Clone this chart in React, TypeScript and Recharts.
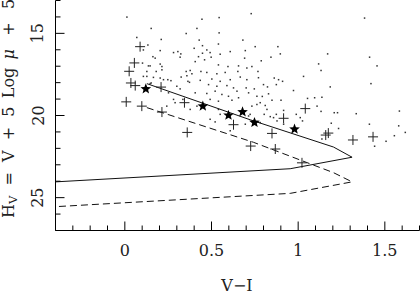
import React from 'react';
import { ScatterChart, Scatter, XAxis, YAxis } from 'recharts';

const FONT = '"DejaVu Serif", serif';

// axis ticks
const X_TICKS = [-0.4, -0.3, -0.2, -0.1, 0, 0.1, 0.2, 0.3, 0.4, 0.5, 0.6, 0.7, 0.8, 0.9, 1, 1.1, 1.2, 1.3, 1.4, 1.5, 1.6, 1.7];
const X_MAJOR = [0, 0.5, 1, 1.5];
const X_MAJOR_LABELS = ['0', '0.5', '1', '1.5'];
const Y_TICKS = [13, 14, 15, 16, 17, 18, 19, 20, 21, 22, 23, 24, 25, 26, 27];
const Y_MAJOR = [15, 20, 25];
const Y_MAJOR_LABELS = ['15', '20', '25'];

// field stars (small dots): [V-I, H_V]
const DOTS: number[][] = [
  [0.012, 14.01], [0.445, 14.14], [0.544, 14.04], [0.729, 13.8], [0.152, 14.7], [0.416, 14.7], [0.544, 14.97], [0.354, 15.01],
  [0.069, 15.25], [0.21, 15.37], [0.429, 15.41], [0.681, 15.41], [0.133, 15.71], [0.54, 15.65], [0.448, 15.75], [0.107, 16.01],
  [0.204, 16.05], [0.281, 16.17], [0.306, 16.11], [0.323, 16.25], [0.319, 16.45], [0.4, 15.91], [0.473, 16.01], [0.492, 16.17],
  [0.608, 16.11], [0.175, 16.51], [0.406, 16.72], [0.46, 16.61], [0.691, 16.51], [0.146, 16.98], [0.214, 17.02], [0.181, 17.32],
  [0.54, 16.92], [0.595, 17.02], [0.656, 16.98], [0.704, 17.11], [0.354, 17.32], [0.377, 17.26], [0.439, 17.32], [0.473, 17.38],
  [0.531, 17.46], [0.579, 17.38], [0.652, 17.32], [0.733, 17.02], [0.768, 17.32], [0.214, 17.22], [0.127, 17.62], [0.204, 17.72],
  [0.248, 17.82], [0.266, 17.88], [0.325, 17.66], [0.364, 17.92], [0.435, 17.86], [0.502, 17.78], [0.55, 17.92], [0.608, 17.82],
  [0.666, 17.66], [0.704, 17.82], [0.152, 18.02], [0.3, 18.22], [0.319, 18.38], [0.373, 17.98], [0.483, 18.12], [0.531, 18.22],
  [0.589, 18.18], [0.627, 18.32], [0.7, 18.32], [0.747, 18.38], [0.252, 18.62], [0.406, 18.62], [0.473, 18.66], [0.521, 18.52],
  [0.56, 18.72], [0.598, 18.83], [0.647, 18.52], [0.714, 18.62], [0.762, 18.83], [0.281, 19.02], [0.335, 19.02], [0.492, 19.02],
  [0.54, 19.13], [0.618, 19.07], [0.656, 18.92], [0.733, 19.43], [0.762, 19.33], [0.29, 19.22], [0.416, 19.43], [0.377, 19.63],
  [0.54, 19.63], [1.383, 14.07], [0.752, 15.81], [0.883, 15.81], [0.897, 16.25], [1.17, 16.25], [1.412, 16.45], [1.455, 16.98],
  [0.843, 16.45], [0.787, 16.67], [1.118, 16.86], [1.132, 17.26], [0.771, 17.7], [0.862, 17.72], [0.887, 17.82], [0.91, 17.92],
  [1.031, 17.62], [0.8, 18.12], [0.823, 18.26], [0.874, 18.12], [1.42, 18.06], [1.185, 18.26], [0.973, 18.48], [0.829, 18.68],
  [0.901, 19.07], [0.793, 18.84], [0.849, 19.07], [0.781, 19.22], [0.81, 19.39], [0.82, 19.63], [1.054, 18.96], [1.095, 18.92],
  [1.137, 18.89], [1.109, 19.43], [1.132, 19.75], [1.208, 19.83], [1.227, 19.83], [1.335, 19.89], [1.584, 19.73], [0.916, 19.69],
  [0.874, 19.93], [0.804, 19.93], [0.839, 20.07], [0.989, 19.93], [0.723, 19.93], [0.858, 20.13], [0.878, 20.33], [0.916, 20.53],
  [1.012, 20.13], [1.025, 20.33], [1.191, 20.47], [1.233, 20.79], [1.411, 20.53], [1.58, 20.63], [1.618, 21.03], [1.555, 21.23],
  [1.507, 21.57], [1.441, 21.87], [1.137, 21.43], [0.492, 20.23], [0.521, 20.39], [0.55, 19.93], [0.608, 20.93], [0.714, 20.03],
  [0.695, 20.53], [0.781, 20.43], [0.102, 16.81], [0.136, 16.98], [0.204, 16.87], [0.127, 17.32], [0.387, 17.46], [0.358, 17.58],
  [0.107, 17.62], [0.165, 17.68], [0.223, 17.82], [0.146, 18.06], [0.242, 19.43], [0.425, 16.42], [0.162, 16.42], [0.448, 16.21],
  [0.498, 16.45], [0.55, 16.27], [0.695, 16.05],
];

// crosses
const CROSSES: number[][] = [
  [0.088, 15.81], [0.055, 16.8], [0.025, 17.31], [0.035, 18.02], [0.06, 18.18], [0.008, 19.17], [0.098, 19.43], [0.209, 18.27],
  [0.214, 19.79], [0.344, 19.22], [0.36, 21.03], [0.627, 20.56], [0.726, 21.86], [0.849, 21.09], [0.868, 22.04], [0.916, 20.17],
  [1.041, 19.58], [1.022, 22.88], [1.159, 21.19], [1.174, 21.07], [1.316, 21.49], [1.432, 21.3],
];

// filled stars
const STARS: number[][] = [
  [0.121, 18.38], [0.45, 19.43], [0.598, 19.99], [0.679, 19.78], [0.748, 20.43], [0.979, 20.83],
];

// sequence lines
const SOLID_LINE: number[][] = [
  [0.127, 18.06], [0.723, 20.26], [1.204, 21.92], [1.311, 22.54], [0.954, 23.24], [-0.4, 24.04],
];
const DASHED_LINE: number[][] = [
  [0.127, 19.52], [0.742, 21.63], [1.204, 23.48], [1.311, 24.04], [0.954, 24.74], [-0.4, 25.55],
];

const toXY = (arr: number[][]) => arr.map(([x, y]) => ({ x, y }));

const near = (a: number, b: number) => Math.abs(a - b) < 1e-6;

const TEXT_FILL = '#222';

function BottomTick(props: any) {
  const { x, y, payload } = props;
  const idx = X_MAJOR.findIndex((t) => near(t, payload.value));
  const major = idx >= 0;
  return (
    <g>
      <line x1={x} x2={x} y1={y} y2={y - (major ? 9 : 5)} stroke="#000" strokeWidth={1} />
      {major && (
        <text x={x} y={y + 25} textAnchor="middle" fontFamily={FONT} fontSize={16} fill={TEXT_FILL}>
          {X_MAJOR_LABELS[idx]}
        </text>
      )}
    </g>
  );
}

function TopTick(props: any) {
  const { x, y, payload } = props;
  const major = X_MAJOR.some((t) => near(t, payload.value));
  return <line x1={x} x2={x} y1={y} y2={y + (major ? 9 : 5)} stroke="#000" strokeWidth={1} />;
}

function LeftTick(props: any) {
  const { x, y, payload } = props;
  const idx = Y_MAJOR.findIndex((t) => near(t, payload.value));
  const major = idx >= 0;
  return (
    <g>
      <line x1={x} x2={x + (major ? 9 : 5)} y1={y} y2={y} stroke="#000" strokeWidth={1} />
      {major && (
        <text
          x={x - 12}
          y={y}
          transform={`rotate(-90 ${x - 12} ${y})`}
          textAnchor="middle"
          fontFamily={FONT}
          fontSize={16}
          fill={TEXT_FILL}
        >
          {Y_MAJOR_LABELS[idx]}
        </text>
      )}
    </g>
  );
}

function RightTick(props: any) {
  const { x, y, payload } = props;
  const major = Y_MAJOR.some((t) => near(t, payload.value));
  return <line x1={x} x2={x - (major ? 9 : 5)} y1={y} y2={y} stroke="#000" strokeWidth={1} />;
}

function Dot(props: any) {
  const { cx, cy } = props;
  return <rect x={cx - 0.75} y={cy - 0.75} width={1.5} height={1.5} fill="#333" />;
}

function Cross(props: any) {
  const { cx, cy } = props;
  const h = 5;
  return (
    <g stroke="#222" strokeWidth={1}>
      <line x1={cx - h} x2={cx + h} y1={cy} y2={cy} />
      <line x1={cx} x2={cx} y1={cy - h} y2={cy + h} />
    </g>
  );
}

function StarShape(props: any) {
  const { cx, cy } = props;
  const R = 5.6;
  const r = 2.4;
  const pts: string[] = [];
  for (let i = 0; i < 10; i++) {
    const a = -Math.PI / 2 + (i * Math.PI) / 5;
    const rad = i % 2 === 0 ? R : r;
    pts.push(`${cx + rad * Math.cos(a)},${cy + rad * Math.sin(a)}`);
  }
  return <polygon points={pts.join(' ')} fill="#000" />;
}

const NoShape = () => <g />;

export default function App() {
  const nb = '\u00A0';
  const th = '\u2009';
  return (
    <div style={{ position: 'absolute', left: 0, top: 0, width: 420, height: 294 }}>
      <ScatterChart width={420} height={294} margin={{ top: 0.5, right: 0.5, bottom: 0.5, left: 0.5 }}>
        <XAxis
          xAxisId="b"
          type="number"
          dataKey="x"
          orientation="bottom"
          domain={[-0.4, 1.7]}
          allowDataOverflow
          ticks={X_TICKS}
          interval={0}
          height={63}
          tickSize={0}
          tickMargin={0}
          tickLine={false}
          tick={<BottomTick />}
          axisLine={{ stroke: '#000', strokeWidth: 1 }}
        />
        <XAxis
          xAxisId="t"
          type="number"
          dataKey="x"
          orientation="top"
          domain={[-0.4, 1.7]}
          allowDataOverflow
          ticks={X_TICKS}
          interval={0}
          height={0}
          tickSize={0}
          tickMargin={0}
          tickLine={false}
          tick={<TopTick />}
          axisLine={{ stroke: '#000', strokeWidth: 1 }}
        />
        <YAxis
          yAxisId="l"
          type="number"
          dataKey="y"
          orientation="left"
          domain={[13, 27]}
          reversed
          allowDataOverflow
          ticks={Y_TICKS}
          interval={0}
          width={55}
          tickSize={0}
          tickMargin={0}
          tickLine={false}
          tick={<LeftTick />}
          axisLine={{ stroke: '#000', strokeWidth: 1 }}
        />
        <YAxis
          yAxisId="r"
          type="number"
          dataKey="y"
          orientation="right"
          domain={[13, 27]}
          reversed
          allowDataOverflow
          ticks={Y_TICKS}
          interval={0}
          width={0}
          tickSize={0}
          tickMargin={0}
          tickLine={false}
          tick={<RightTick />}
          axisLine={{ stroke: '#000', strokeWidth: 1 }}
        />
        <Scatter xAxisId="t" yAxisId="r" data={toXY(DOTS)} shape={<Dot />} isAnimationActive={false} />
        <Scatter
          xAxisId="b"
          yAxisId="l"
          data={toXY(SOLID_LINE)}
          shape={<NoShape />}
          line={{ stroke: '#111', strokeWidth: 1 }}
          lineType="joint"
          isAnimationActive={false}
        />
        <Scatter
          xAxisId="b"
          yAxisId="l"
          data={toXY(DASHED_LINE)}
          shape={<NoShape />}
          line={{ stroke: '#111', strokeWidth: 1, strokeDasharray: '7 4' }}
          lineType="joint"
          isAnimationActive={false}
        />
        <Scatter xAxisId="b" yAxisId="l" data={toXY(CROSSES)} shape={<Cross />} isAnimationActive={false} />
        <Scatter xAxisId="b" yAxisId="l" data={toXY(STARS)} shape={<StarShape />} isAnimationActive={false} />
        <text x={237} y={291} textAnchor="middle" fontFamily={FONT} fontSize={16} fill={TEXT_FILL}>
          V−I
        </text>
        <text
          x={14}
          y={218}
          transform="rotate(-90 14 218)"
          fontFamily={FONT}
          fontSize={16}
          fill={TEXT_FILL}
        >
          H
          <tspan fontSize={11.5} dy={3}>V</tspan>
          <tspan dy={-3}>{`${nb}${nb}=${nb}${nb}V${nb}${nb}+${nb}${nb}5${nb}${th}Log${nb}${th}`}</tspan>
          <tspan fontStyle="italic">μ</tspan>
          <tspan>{`${nb}${th}${nb}+${nb}${th}${nb}5`}</tspan>
        </text>
      </ScatterChart>
    </div>
  );
}
